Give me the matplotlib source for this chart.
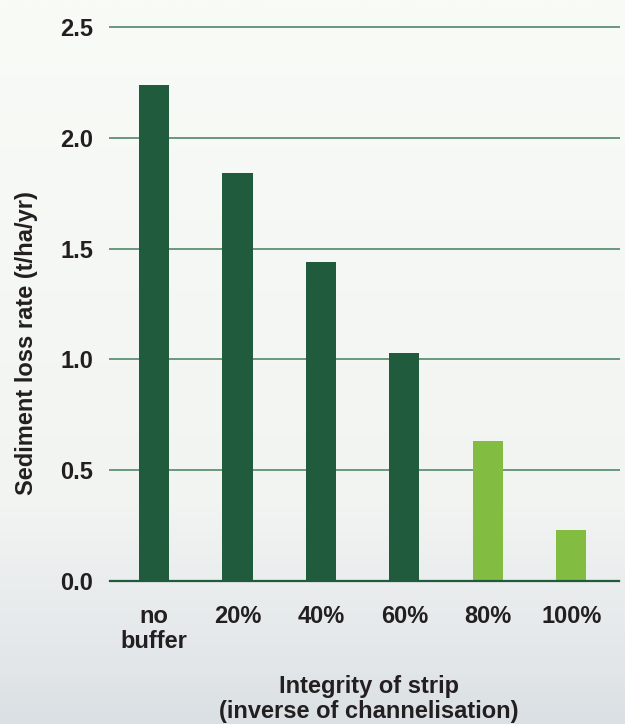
import numpy as np
import matplotlib
matplotlib.use("Agg")
import matplotlib.pyplot as plt
from matplotlib.colors import LinearSegmentedColormap

# data
categories = ["no\nbuffer", "20%", "40%", "60%", "80%", "100%"]
sediment_loss = [2.24, 1.84, 1.44, 1.03, 0.63, 0.23]
yticks = [0.0, 0.5, 1.0, 1.5, 2.0, 2.5]

dark_green = "#1f5b3c"
light_green = "#82bd41"
bar_colors = [dark_green] * 4 + [light_green] * 2

plt.rcParams["font.family"] = ["Liberation Sans", "DejaVu Sans"]
plt.rcParams["font.weight"] = "bold"

fig = plt.figure(figsize=(6.25, 7.24), dpi=100)

# background: pale at top fading to a cool grey at the bottom
bg = fig.add_axes([0, 0, 1, 1], zorder=-10)
cmap = LinearSegmentedColormap.from_list(
    "bg", [(0.0, "#dbe0e4"), (0.12, "#e5e9eb"), (0.3, "#f2f4f2"), (1.0, "#f9fbf7")])
grad = np.linspace(0, 1, 256).reshape(-1, 1)
bg.imshow(grad, aspect="auto", cmap=cmap, origin="lower", extent=[0, 1, 0, 1])
bg.axis("off")

W, H = 625, 724
ax = fig.add_axes([110 / W, (H - 581) / H, (619 - 110) / W, (581 - 27) / H])
ax.patch.set_alpha(0)

x = np.arange(len(categories))
ax.bar(x, sediment_loss, width=0.36, color=bar_colors, zorder=3)

ax.set_xlim(-0.527, 5.57)
ax.set_ylim(0, 2.5)
ax.set_yticks(yticks)
ax.set_yticklabels([f"{v:.1f}" for v in yticks])
ax.set_xticks(x)
ax.set_xticklabels(categories, linespacing=1.15)

ax.tick_params(axis="y", length=0, pad=12, labelsize=17, labelcolor="#231f20")
ax.tick_params(axis="x", length=0, pad=17, labelsize=17, labelcolor="#231f20")

ax.grid(axis="y", color="#6a977e", linewidth=1.4, zorder=1)
for gl in ax.yaxis.get_gridlines():
    gl.set_clip_on(False)

for side in ["top", "right", "left"]:
    ax.spines[side].set_visible(False)
ax.spines["bottom"].set_color(dark_green)
ax.spines["bottom"].set_linewidth(1.6)
ax.spines["bottom"].set_zorder(4)

fig.text(27 / W, 1 - 343 / H, "Sediment loss rate (t/ha/yr)", rotation=90,
         ha="center", va="center", fontsize=17, color="#231f20")
fig.text(369 / W, 1 - 699 / H, "Integrity of strip\n(inverse of channelisation)",
         ha="center", va="center", fontsize=17, color="#231f20", linespacing=1.07)

fig.savefig("out.png", dpi=100)
